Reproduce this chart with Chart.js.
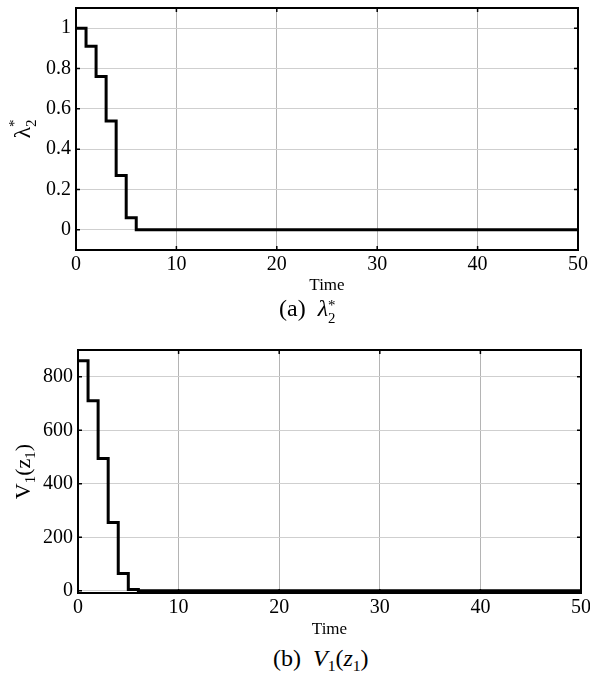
<!DOCTYPE html>
<html>
<head>
<meta charset="utf-8">
<script src="https://cdn.jsdelivr.net/npm/chart.js@4.4.1/dist/chart.umd.min.js"></script>
<style>
  body { margin: 0; background: #fff; width: 590px; height: 678px; position: relative; overflow: hidden; }
  canvas { position: absolute; left: 0; }
  .cap { position: absolute; font-family: "Liberation Serif", serif; font-size: 24px; line-height: 24px; color: #000; white-space: nowrap; }
  .ss { display: inline-block; vertical-align: -0.45em; font-size: 0.62em; line-height: 0.85em; }
  sub { font-size: 0.65em; vertical-align: -0.3em; line-height: 0; }
</style>
</head>
<body>
<canvas id="chartA" width="590" height="296" style="top:0"></canvas>
<div class="cap" style="left:279px; top:296px">(a)&nbsp; <i>λ</i><span class="ss">*<br>2</span></div>
<canvas id="chartB" width="590" height="300" style="top:340px"></canvas>
<div class="cap" style="left:273px; top:646px">(b)&nbsp; <i>V</i><sub>1</sub>(<i>z</i><sub>1</sub>)</div>
<script>
// step values, held from each time to the next
const time = [0, 1, 2, 3, 4, 5, 6, 50];
const lambda2 = [1, 0.91, 0.76, 0.54, 0.27, 0.06, 0, 0];
const v1 = [860, 710, 495, 255, 65, 5, 0, 0];

const xTicks = [0, 10, 20, 30, 40, 50];
const yTicksA = [0, 0.2, 0.4, 0.6, 0.8, 1];
const yTicksB = [0, 200, 400, 600, 800];

const serif = '"Liberation Serif", "Times New Roman", serif';

function drawParts(ctx, parts, cx, cy) {
    // measure, then draw centered at (cx, cy) rotated -90deg
    ctx.save();
    ctx.translate(cx, cy);
    ctx.rotate(-Math.PI / 2);
    ctx.fillStyle = '#000';
    ctx.textBaseline = 'alphabetic';
    let total = 0;
    parts.forEach(p => {
        ctx.font = p.size + 'px ' + serif;
        p.w = ctx.measureText(p.t).width;
        if (!p.stack) total += p.w;
    });
    let x = -total / 2;
    parts.forEach(p => {
        ctx.font = p.size + 'px ' + serif;
        ctx.fillText(p.t, x, p.dy + 7);
        if (!p.stack) x += p.w;
    });
    ctx.restore();
}

function boxPlugin(titleParts, titleX) {
    return {
        id: 'box',
        afterDraw(chart) {
            const ctx = chart.ctx;
            const a = chart.chartArea;
            const xs = chart.scales.x, ys = chart.scales.y;
            ctx.save();
            ctx.strokeStyle = '#000';
            ctx.lineWidth = 1.5;
            ctx.beginPath();
            xs.ticks.forEach(t => {
                const px = xs.getPixelForValue(t.value);
                ctx.moveTo(px, a.top); ctx.lineTo(px, a.top + 4);
                ctx.moveTo(px, a.bottom); ctx.lineTo(px, a.bottom - 4);
            });
            ys.ticks.forEach(t => {
                const py = ys.getPixelForValue(t.value);
                ctx.moveTo(a.left, py); ctx.lineTo(a.left + 4, py);
                ctx.moveTo(a.right, py); ctx.lineTo(a.right - 4, py);
            });
            ctx.stroke();
            ctx.lineWidth = 2;
            ctx.strokeRect(a.left, a.top, a.right - a.left, a.bottom - a.top);
            ctx.restore();
            drawParts(ctx, titleParts, titleX, (a.top + a.bottom) / 2);
        }
    };
}

function makeChart(id, values, yMin, yMax, yTicks, yWidth, pad, titleParts) {
    return new Chart(document.getElementById(id), {
        type: 'line',
        data: {
            datasets: [{
                data: time.map((t, i) => ({ x: t, y: values[i] })),
                stepped: 'before',
                borderColor: '#000',
                borderWidth: 3,
                pointRadius: 0,
                fill: false
            }]
        },
        options: {
            responsive: false,
            animation: false,
            layout: { padding: pad },
            plugins: { legend: { display: false }, tooltip: { enabled: false } },
            scales: {
                x: {
                    type: 'linear', min: 0, max: 50,
                    afterBuildTicks: s => { s.ticks = xTicks.map(v => ({ value: v })); },
                    afterFit: s => { s.height = pad.xh; s.paddingLeft = 0; s.paddingRight = 0; },
                    grid: { color: '#b4b4b4', lineWidth: 1, drawTicks: false },
                    border: { display: false },
                    ticks: { color: '#000', font: { family: serif, size: 20 }, padding: 3, maxRotation: 0 },
                    title: { display: true, text: 'Time', color: '#000', font: { family: serif, size: 17 }, padding: 0 }
                },
                y: {
                    type: 'linear', min: yMin, max: yMax,
                    afterBuildTicks: s => { s.ticks = yTicks.map(v => ({ value: v })); },
                    afterFit: s => { s.width = yWidth; s.paddingTop = 0; s.paddingBottom = 0; },
                    grid: { color: '#cfcfcf', lineWidth: 1, drawTicks: false },
                    border: { display: false },
                    ticks: { color: '#000', font: { family: serif, size: 20 }, padding: 5, callback: v => String(v) }
                }
            }
        },
        plugins: [boxPlugin(titleParts, 23)]
    });
}

makeChart('chartA', lambda2, -0.1, 1.1, yTicksA, 76,
    { top: 8, right: 12, left: 0, bottom: 0, xh: 46 },
    [{ t: 'λ', size: 24, dy: 0 }, { t: '*', size: 15, dy: -11, stack: true }, { t: '2', size: 15, dy: 6 }]);

makeChart('chartB', v1, -8, 900, yTicksB, 78,
    { top: 10, right: 9, left: 0, bottom: 0, xh: 47 },
    [{ t: 'V', size: 22, dy: 0 }, { t: '1', size: 15, dy: 5 }, { t: '(z', size: 22, dy: 0 },
     { t: '1', size: 15, dy: 5 }, { t: ')', size: 22, dy: 0 }]);
</script>
</body>
</html>
